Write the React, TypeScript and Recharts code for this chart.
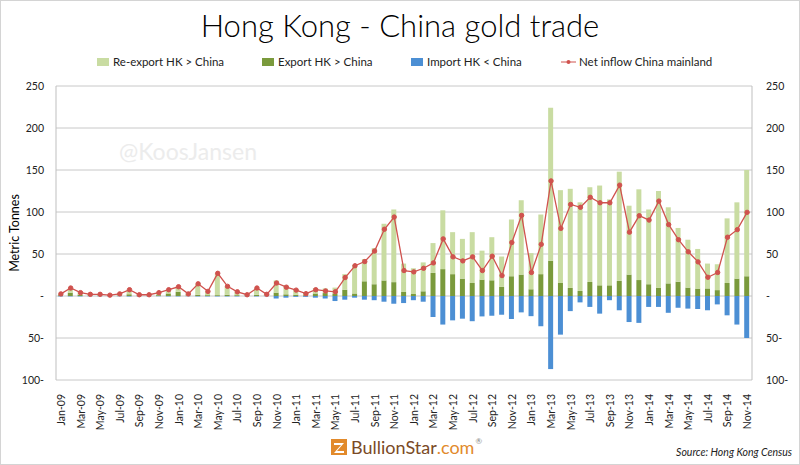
import { ComposedChart, Bar, Line, XAxis, YAxis, CartesianGrid } from 'recharts'

const months = [
  'Jan-09', 'Feb-09', 'Mar-09', 'Apr-09', 'May-09', 'Jun-09', 'Jul-09', 'Aug-09', 'Sep-09', 'Oct-09', 'Nov-09', 'Dec-09',
  'Jan-10', 'Feb-10', 'Mar-10', 'Apr-10', 'May-10', 'Jun-10', 'Jul-10', 'Aug-10', 'Sep-10', 'Oct-10', 'Nov-10', 'Dec-10',
  'Jan-11', 'Feb-11', 'Mar-11', 'Apr-11', 'May-11', 'Jun-11', 'Jul-11', 'Aug-11', 'Sep-11', 'Oct-11', 'Nov-11', 'Dec-11',
  'Jan-12', 'Feb-12', 'Mar-12', 'Apr-12', 'May-12', 'Jun-12', 'Jul-12', 'Aug-12', 'Sep-12', 'Oct-12', 'Nov-12', 'Dec-12',
  'Jan-13', 'Feb-13', 'Mar-13', 'Apr-13', 'May-13', 'Jun-13', 'Jul-13', 'Aug-13', 'Sep-13', 'Oct-13', 'Nov-13', 'Dec-13',
  'Jan-14', 'Feb-14', 'Mar-14', 'Apr-14', 'May-14', 'Jun-14', 'Jul-14', 'Aug-14', 'Sep-14', 'Oct-14', 'Nov-14',
]

// metric tonnes
const reExport = [
  1.5, 5.5, 2.5, 1.5, 1.5, 0.7, 2, 5.5, 1, 1.2, 3, 4.5,
  6, 2, 13, 4.5, 26, 10, 4, 1, 8, 1.5, 14.5, 10.5,
  6.5, 3, 6.5, 5.5, 7, 18.5, 34, 26.5, 43, 67.5, 86.5, 33.8,
  30.6, 34.4, 35.5, 70, 50, 47.3, 60.5, 34.5, 51.3, 36.2, 67.5, 88.5,
  43, 71, 182, 110.5, 118, 105.5, 112.8, 118.8, 102.3, 130, 82, 108,
  89, 115.4, 90.6, 64, 57, 47.2, 29.6, 30.8, 76.9, 90.8, 126.5,
]

const exportHK = [
  1, 4, 1.5, 0.5, 0.5, 0.3, 0.5, 2, 0.5, 0.3, 1, 3,
  5, 0.5, 1.5, 1, 1, 1.5, 1, 0.5, 1.5, 0.5, 4, 2,
  1.5, 1, 3, 3.5, 3, 7.5, 3, 17.5, 14, 18.5, 16.5, 4.8,
  2.4, 5.6, 27.5, 32, 26, 20.7, 15.5, 19.5, 18.7, 10.8, 23.5, 25.5,
  8, 26, 42, 15.5, 9.6, 6, 16.7, 12.7, 12.7, 18, 25.5, 19,
  14, 9.6, 15, 17, 10, 8.8, 9, 7, 15.5, 20.7, 23.5,
]

const importHK = [
  -0.5, -0.5, -0.5, -0.3, -0.3, -0.3, -0.3, -0.5, -0.3, -0.3, -0.3, -0.5,
  -0.5, -0.3, -0.5, -0.5, -0.5, -0.5, -0.5, -0.3, -0.5, -0.3, -3, -2,
  -1, -1, -2, -3, -6, -4.4, -2, -4.4, -5, -6.8, -9.2, -8.4,
  -5, -6.8, -25, -34, -29, -27, -30, -24.3, -23.5, -22.3, -27.5, -19.5,
  -24, -36, -87, -46, -18, -7.6, -13, -21, -5, -17, -31, -32,
  -13, -13, -20, -14, -15, -15.5, -17, -10, -23, -34, -50,
]

const netInflow = [
  2.5, 9.5, 4, 2, 2, 1, 2.5, 7.5, 1.5, 1.5, 4, 7.5,
  11, 2.5, 14.5, 5.5, 27, 11.5, 5, 1.5, 9.5, 2, 15.5, 10.5,
  7, 2.8, 7.5, 6, 5, 22, 36, 41, 53.5, 79.5, 94, 30.3,
  28.7, 33, 39.4, 68, 46.6, 41.8, 46.6, 30.3, 47.4, 24.3, 63.7, 96,
  28, 61.5, 137, 80.5, 109, 105.6, 117.5, 111, 111, 132, 76, 95.6,
  90.4, 113, 85, 67, 52.6, 40.6, 22.3, 28, 70, 79, 99.6,
]

const yTicks = [-100, -50, 0, 50, 100, 150, 200, 250]

const data = months.map((m, i) => ({
  month: m,
  reExport: reExport[i],
  exportHK: exportHK[i],
  importHK: importHK[i],
  net: netInflow[i],
}))

const FONT = 'Lato, "Open Sans", sans-serif'
const C_RE = '#c9dca2'
const C_EX = '#7a9a3c'
const C_IM = '#4c8fd4'
const C_NET = '#d0524e'

const fmtTick = (v: number) => (v === 0 ? '-' : v < 0 ? `${-v}-` : `${v}`)

function MonthTick({ x, y, payload }: any) {
  return (
    <text x={x} y={y + 6} transform={`rotate(-90 ${x} ${y + 6})`} textAnchor="end" dominantBaseline="central"
      fontSize={10.5} fontFamily={FONT} fill="#222">
      {payload.value}
    </text>
  )
}

function ChartLegend() {
  const items = [
    { label: 'Re-export HK > China', color: C_RE, left: 97 },
    { label: 'Export HK > China', color: C_EX, left: 262 },
    { label: 'Import HK < China', color: C_IM, left: 411 },
  ]
  return (
    <div style={{ position: 'absolute', left: 0, top: 55, width: 800, height: 16, fontFamily: FONT, fontSize: 11.5, color: '#222' }}>
      {items.map((it) => (
        <div key={it.label} style={{ position: 'absolute', left: it.left, top: 0, display: 'flex', alignItems: 'center' }}>
          <span style={{ width: 12, height: 8, background: it.color, marginRight: 4, display: 'inline-block' }} />
          {it.label}
        </div>
      ))}
      <div style={{ position: 'absolute', left: 561, top: 0, display: 'flex', alignItems: 'center' }}>
        <svg width={15} height={8} style={{ marginRight: 3 }}>
          <line x1={0} y1={4} x2={15} y2={4} stroke={C_NET} strokeWidth={1} />
          <circle cx={7.5} cy={4} r={2} fill={C_NET} />
        </svg>
        Net inflow China mainland
      </div>
    </div>
  )
}

export default function App() {
  return (
    <div style={{ position: 'absolute', left: 0, top: 0, width: 800, height: 465, background: '#fff', fontFamily: FONT }}>
      <div style={{ position: 'absolute', left: 0, top: 6, width: 800, textAlign: 'center', fontSize: 31, fontWeight: 300, color: '#000' }}>
        Hong Kong - China gold trade
      </div>
      <ChartLegend />
      <div style={{ position: 'absolute', left: 119, top: 137, fontSize: 23, color: '#ececec' }}>@KoosJansen</div>

      <ComposedChart width={800} height={465} data={data} stackOffset="sign" barSize={5}
        margin={{ top: 86, right: 0, bottom: 0, left: 0 }} style={{ position: 'absolute', left: 0, top: 0 }}>
        <CartesianGrid yAxisId="left" vertical={false} stroke="#c8c8c8" />
        <XAxis dataKey="month" interval={1} height={85} axisLine={false} tickLine={false} tick={<MonthTick />} />
        <YAxis yAxisId="left" domain={[-100, 250]} ticks={yTicks} width={56} tickFormatter={fmtTick}
          axisLine={{ stroke: '#bfbfbf' }} tickLine={false} tick={{ fill: '#222', fontSize: 10.5, fontFamily: FONT, dx: -4 }}
          label={{ value: 'Metric Tonnes', angle: -90, position: 'insideLeft', dx: 10, dy: 0, style: { fontSize: 12.5, fill: '#000', fontFamily: FONT, textAnchor: 'middle' } }} />
        <YAxis yAxisId="right" orientation="right" domain={[-100, 250]} ticks={yTicks} width={48} tickFormatter={fmtTick}
          axisLine={{ stroke: '#bfbfbf' }} tickLine={false} tick={{ fill: '#222', fontSize: 10.5, fontFamily: FONT, textAnchor: 'start', dx: 6 }} />
        <Bar yAxisId="left" dataKey="exportHK" name="Export HK > China" stackId="s" fill={C_EX} isAnimationActive={false} />
        <Bar yAxisId="left" dataKey="reExport" name="Re-export HK > China" stackId="s" fill={C_RE} isAnimationActive={false} />
        <Bar yAxisId="left" dataKey="importHK" name="Import HK < China" stackId="s" fill={C_IM} isAnimationActive={false} />
        {/* invisible twin so the right-hand axis is drawn */}
        <Line yAxisId="right" dataKey="net" stroke="none" dot={false} activeDot={false} legendType="none" isAnimationActive={false} />
        <Line yAxisId="left" dataKey="net" name="Net inflow China mainland" stroke={C_NET} strokeWidth={1.3}
          dot={{ r: 2.2, fill: C_NET, stroke: C_NET, strokeWidth: 1 }} isAnimationActive={false} />
      </ComposedChart>

      <div style={{ position: 'absolute', left: 331, top: 436, display: 'flex', alignItems: 'center' }}>
        <svg width={16} height={16} style={{ marginRight: 4 }}>
          <rect x={0} y={0} width={16} height={16} fill="#e28a2b" />
          <polygon points="3,4 13,4 6,12 13,12 13,14 3,14 10,6 3,6" fill="#fff" />
        </svg>
        <span style={{ fontSize: 18, color: '#7a4a26' }}>BullionStar</span>
        <span style={{ fontSize: 18, color: '#e28a2b' }}>.com</span>
        <sup style={{ fontSize: 8, color: '#888', marginLeft: 1, alignSelf: 'flex-start' }}>®</sup>
      </div>
      <div style={{ position: 'absolute', right: 8, top: 446, fontSize: 10.5, fontStyle: 'italic', color: '#222' }}>
        Source: Hong Kong Census
      </div>
      <div style={{ position: 'absolute', left: 0, top: 0, width: 800, height: 465, boxSizing: 'border-box', border: '1px solid #d4d4d4', pointerEvents: 'none' }} />
    </div>
  )
}
